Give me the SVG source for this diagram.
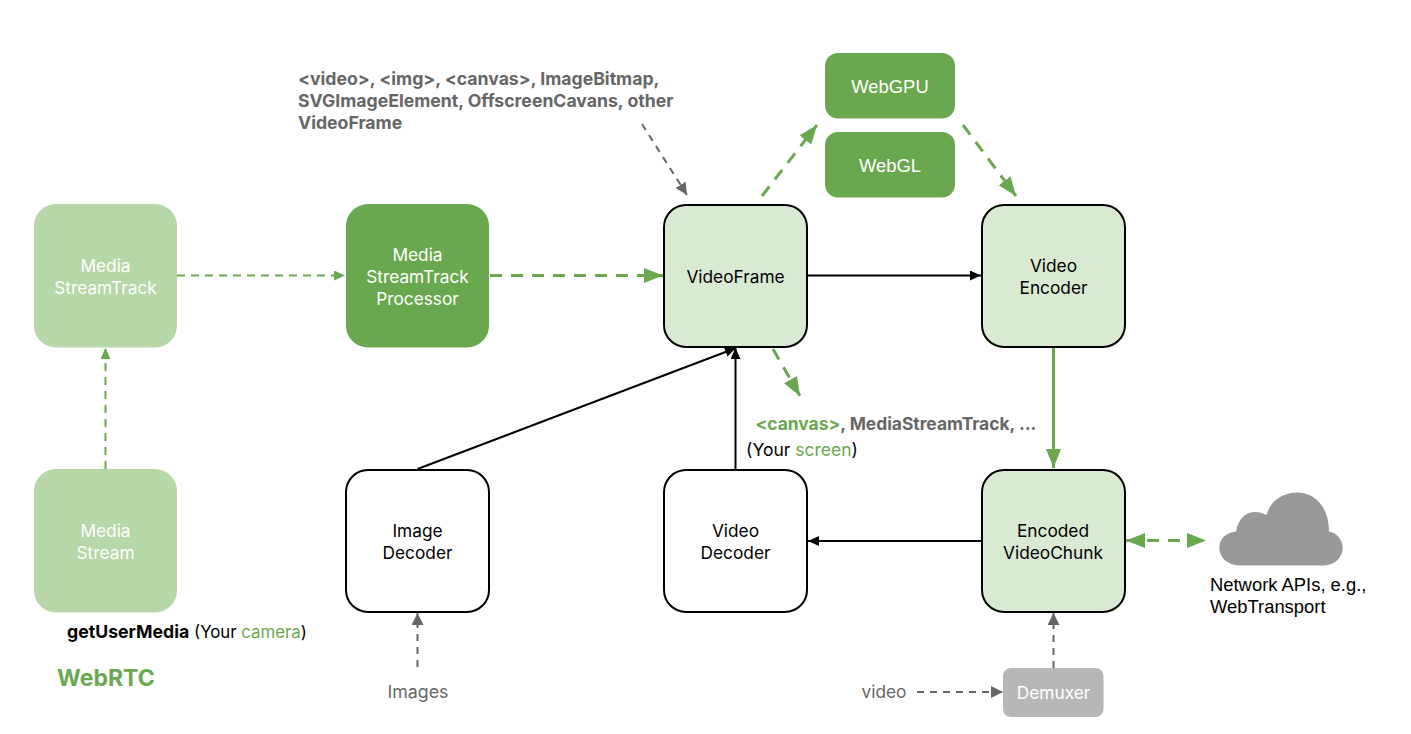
<svg xmlns="http://www.w3.org/2000/svg" width="1411" height="734" viewBox="0 0 1411 734">
<style>
text{font-family:Inter,"Liberation Sans",sans-serif;font-size:17.3px;text-anchor:middle}
.w{fill:#fff}.k{fill:#000}.g{fill:#666}.gr{fill:#6aa84f}.l{text-anchor:start}.b{font-weight:700}
.a{font-family:"Liberation Sans",Arial,sans-serif;font-size:18.4px}
.n{stroke:#000;stroke-width:2}
.c{fill:none}
.black{stroke:#000;stroke-width:2}
.green{stroke:#6aa84f;stroke-width:2;stroke-dasharray:8 6}
.green3{stroke:#6aa84f;stroke-width:3;stroke-dasharray:12 9}
.solid3{stroke:#6aa84f;stroke-width:3}
.grey{stroke:#666;stroke-width:2;stroke-dasharray:7 6}
</style>
<defs>
<marker id="ak" markerUnits="userSpaceOnUse" markerWidth="12" markerHeight="10" refX="11" refY="5" orient="auto"><path d="M0 0L11 5L0 10z" fill="#000"/></marker>
<marker id="ag" markerUnits="userSpaceOnUse" markerWidth="12" markerHeight="10" refX="11" refY="5" orient="auto"><path d="M0 0L11 5L0 10z" fill="#6aa84f"/></marker>
<marker id="ag3" markerUnits="userSpaceOnUse" markerWidth="20" markerHeight="16" refX="19" refY="7.5" orient="auto"><path d="M0 0L19 7.500L0 15z" fill="#6aa84f"/></marker>
<marker id="ag3s" markerUnits="userSpaceOnUse" markerWidth="20" markerHeight="16" refX="0" refY="7.5" orient="auto"><path d="M19 0L0 7.500L19 15z" fill="#6aa84f"/></marker>
<marker id="ay" markerUnits="userSpaceOnUse" markerWidth="13" markerHeight="12" refX="12" refY="6" orient="auto"><path d="M0 0L12 6L0 12z" fill="#666"/></marker>
</defs>
<g id="connectors" class="c">
<path class="green" d="M177 275.500H345" marker-end="url(#ag)"/>
<path class="green" d="M105.500 469V348" marker-end="url(#ag)"/>
<path class="green3" d="M490 275.500H663" marker-end="url(#ag3)"/>
<path class="black" d="M807 275.500H981" marker-end="url(#ak)"/>
<path class="black" d="M417.500 469L736 348" marker-end="url(#ak)"/>
<path class="black" d="M735.500 469V348" marker-end="url(#ak)"/>
<path class="black" d="M982 541H808" marker-end="url(#ak)"/>
<path class="solid3" d="M1053.500 347V468" marker-end="url(#ag3)"/>
<path class="green3" d="M762 196L817 125" marker-end="url(#ag3)"/>
<path class="green3" d="M963 125L1016 196" marker-end="url(#ag3)"/>
<path class="green3" d="M773 349L800 396" marker-end="url(#ag3)"/>
<path class="green3" d="M1126 540.500H1206" marker-start="url(#ag3s)" marker-end="url(#ag3)"/>
<path class="grey" d="M642 124L687 195" marker-end="url(#ay)"/>
<path class="grey" d="M417.500 667V613" marker-end="url(#ay)"/>
<path class="grey" d="M1053.500 668V613" marker-end="url(#ay)"/>
<path class="grey" d="M917 692H1003" marker-end="url(#ay)"/>
</g>
<g id="media-stream-track"><rect x="34" y="204" width="143" height="143.500" rx="22" fill="#b6d7a8"/><text class="w" x="105.500" y="271.500">Media</text><text class="w" x="105.500" y="293.500">StreamTrack</text></g>
<g id="media-stream"><rect x="34" y="469" width="143" height="143.500" rx="22" fill="#b6d7a8"/><text class="w" x="105.500" y="536.500">Media</text><text class="w" x="105.500" y="558.500">Stream</text></g>
<g id="processor"><rect x="346" y="204" width="143" height="143.500" rx="22" fill="#6aa84f"/><text class="w" x="417.500" y="260.500">Media</text><text class="w" x="417.500" y="282.500">StreamTrack</text><text class="w" x="417.500" y="304.500">Processor</text></g>
<g id="video-frame"><rect class="n" x="664" y="205" width="143" height="142" rx="22" fill="#d9ead3"/><text class="k" x="735.500" y="282.500">VideoFrame</text></g>
<g id="video-encoder"><rect class="n" x="982" y="205" width="143" height="142" rx="22" fill="#d9ead3"/><text class="k" x="1053.500" y="271.500">Video</text><text class="k" x="1053.500" y="293.500">Encoder</text></g>
<g id="image-decoder"><rect class="n" x="346" y="470" width="143" height="142" rx="22" fill="#fff"/><text class="k" x="417.500" y="536.500">Image</text><text class="k" x="417.500" y="558.500">Decoder</text></g>
<g id="video-decoder"><rect class="n" x="664" y="470" width="143" height="142" rx="22" fill="#fff"/><text class="k" x="735.500" y="536.500">Video</text><text class="k" x="735.500" y="558.500">Decoder</text></g>
<g id="encoded-chunk"><rect class="n" x="982" y="470" width="143" height="142" rx="22" fill="#d9ead3"/><text class="k" x="1053" y="536.500">Encoded</text><text class="k" x="1053" y="558.500">VideoChunk</text></g>
<g id="webgpu"><rect x="825" y="53" width="130" height="65.500" rx="13" fill="#6aa84f"/><text class="w a" x="890" y="92.500">WebGPU</text></g>
<g id="webgl"><rect x="825" y="132" width="130" height="65.500" rx="13" fill="#6aa84f"/><text class="w a" x="890" y="171.500">WebGL</text></g>
<g id="demuxer"><rect x="1003" y="668" width="100.500" height="49" rx="8" fill="#b7b7b7"/><text class="w" x="1053.500" y="698.500">Demuxer</text></g>
<g id="cloud"><path fill="#999" d="M1240 565.500C1227 565.500 1219.300 557 1219.300 548C1219.300 539 1226 532.500 1236 531.500C1238 519 1246 512 1255 512C1259 512 1263 513 1266.500 515C1270 501 1283 492.500 1297 492.500C1315 492.500 1329 507 1329 531.500C1337 533 1342.700 540 1342.700 548C1342.700 557 1335 565.500 1323 565.500Z"/></g>
<g id="labels">
<text class="g b l" style="font-size:17.65px" x="298" y="85">&lt;video&gt;, &lt;img&gt;, &lt;canvas&gt;, ImageBitmap,</text>
<text class="g b l" style="font-size:17.65px" x="298" y="107">SVGImageElement, OffscreenCavans, other</text>
<text class="g b l" style="font-size:17.65px" x="298" y="129">VideoFrame</text>
<text class="b l" style="font-size:17.4px" x="755.500" y="430"><tspan class="gr">&lt;canvas&gt;</tspan><tspan class="g">, MediaStreamTrack, ...</tspan></text>
<text class="k l" style="font-size:17.5px" x="746" y="456">(Your <tspan class="gr">screen</tspan>)</text>
<text class="k l a" x="1210" y="591">Network APIs, e.g.,</text>
<text class="k l a" x="1210" y="613">WebTransport</text>
<text class="k l" style="font-size:16.8px" x="67" y="638"><tspan class="b" style="font-size:17.7px">getUserMedia</tspan> (Your <tspan class="gr">camera</tspan>)</text>
<text class="gr b l" x="57" y="686" style="font-size:23px">WebRTC</text>
<text class="g" style="font-size:17.8px" x="418" y="698">Images</text>
<text class="g" x="884" y="698">video</text>
</g>
</svg>
